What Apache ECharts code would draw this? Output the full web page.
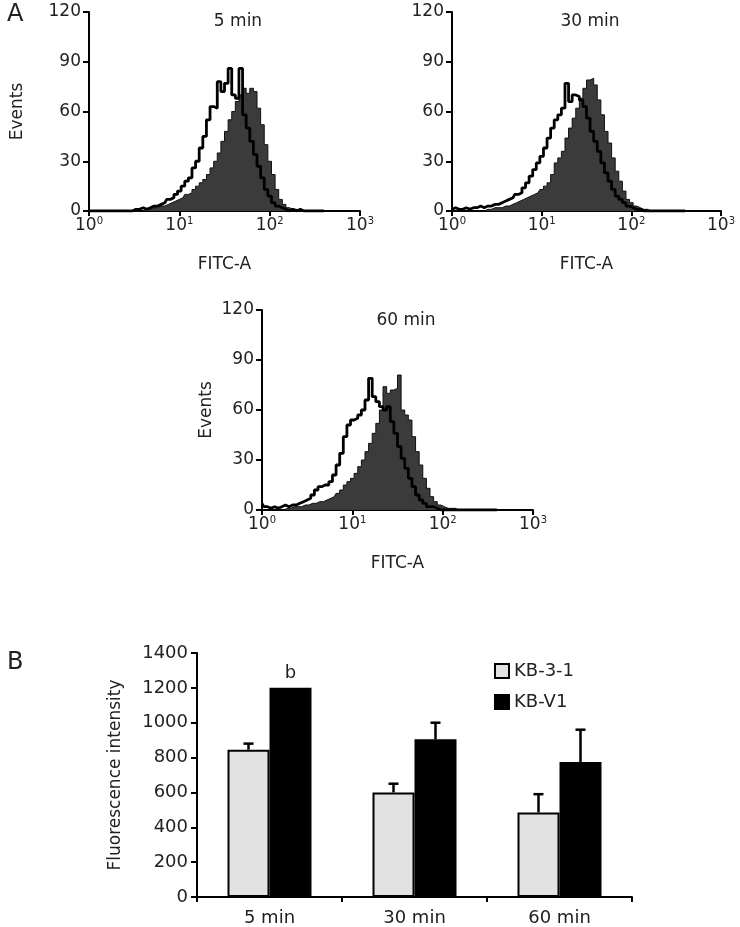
<!DOCTYPE html>
<html><head><meta charset="utf-8">
<script src="https://cdn.jsdelivr.net/npm/echarts@6/dist/echarts.min.js"></script>
<style>html,body{margin:0;padding:0;background:#fff}#c{width:740px;height:927px}</style>
</head><body><div id="c"></div>
<script>
// ---------- DATA ----------
// Histogram channel width in decades of FITC-A (log10 scale); bins start at 10^0
const binStepDecades = 0.04;
const decadeTicks = [0, 1, 2, 3];          // 10^0 .. 10^3
const eventTicks = [0, 30, 60, 90, 120];

// Panel A, 5 min
const p5Open = [0,0,0,0,0,0,0,0,0,0, 0,0,0,1,1,2,1,2,3,3, 4,5,7,8,10,12,15,18,20,26, 30,38,45,55,63,62,78,72,77,86, 70,68,86,58,50,42,34,27,20,13, 9,5,3,2,1,0,1,0,1,0, 0,0,0,0,0,0];
const p5Fill = [0,0,0,0,0,0,0,0,0,0, 0,0,0,0,0,0,1,1,2,2, 3,3,4,5,6,7,8,10,11,13, 15,17,19,22,26,30,35,42,48,55, 60,66,70,74,71,74,72,62,52,40, 30,22,13,7,4,2,1,1,0,0, 0,0,0,0,0,0];
// Panel A, 30 min
const p30Open = [1,2,1,1,2,1,2,2,3,2, 3,3,4,4,5,6,7,8,10,11, 14,17,21,25,29,33,38,44,50,55, 58,62,77,66,70,69,67,63,56,48, 42,36,29,23,18,13,9,7,5,3, 2,1,1,0,0,0,0,0,0,0, 0,0,0,0,0,0];
const p30Fill = [0,0,0,0,0,0,0,0,0,0, 1,1,2,2,2,3,3,4,5,6, 7,8,9,10,11,13,15,17,22,29, 32,36,44,50,56,62,68,74,79,80, 76,67,58,48,41,32,24,18,12,7, 5,3,2,1,1,0,0,0,0,0, 0,0,0,0,0,0];
// Panel A, 60 min
const p60Open = [4,2,1,2,1,2,3,2,3,3, 4,5,6,7,9,12,14,15,15,17, 21,27,34,44,51,54,55,57,60,66, 79,68,65,62,60,62,53,46,38,31, 25,19,14,9,6,4,2,2,1,0, 0,0,0,0,0,0,0,0,0,0, 0,0,0,0,0,0];
const p60Fill = [0,0,0,0,0,0,0,1,1,2, 2,2,3,3,4,4,5,5,6,7, 8,10,12,15,17,19,22,26,30,35, 40,46,52,60,74,70,72,73,81,60, 57,54,44,35,27,19,13,8,5,3, 2,1,1,1,0,0,0,0,0,0, 0,0,0,0,0,0];

// Panel B
const barCategories = ['5 min', '30 min', '60 min'];
const kb31 = [845, 600, 485];
const kb31Err = [35, 50, 105];
const kbv1 = [1200, 905, 775];
const kbv1Err = [0, 95, 185];
const barYTicks = [0, 200, 400, 600, 800, 1000, 1200, 1400];
const seriesNames = ['KB-3-1', 'KB-V1'];

// ---------- CHART ----------
const FONT = 'DejaVu Sans';
const TXT = '#222';
const panels = [
  { title: '5 min', open: p5Open, fill: p5Fill, grid: { left: 89, top: 12, width: 271, height: 199 }, yName: 'Events', yGap: 63, titleX: 233, titleY: 8 },
  { title: '30 min', open: p30Open, fill: p30Fill, grid: { left: 452, top: 12, width: 269, height: 199 }, yName: '', yGap: 60, titleX: 585, titleY: 8 },
  { title: '60 min', open: p60Open, fill: p60Fill, grid: { left: 262, top: 310, width: 271, height: 200 }, yName: 'Events', yGap: 47, titleX: 401, titleY: 307 }
];
const toPairs = arr => arr.map((v, i) => [i * binStepDecades, v]);

const grids = [], xAxes = [], yAxes = [], series = [], titles = [];
const axisLine = { show: true, onZero: false, lineStyle: { color: '#000', width: 2 } };

panels.forEach((p, k) => {
  grids.push(Object.assign({ containLabel: false }, p.grid));
  xAxes.push({
    type: 'value', gridIndex: k, min: decadeTicks[0], max: decadeTicks[decadeTicks.length - 1], interval: 1,
    axisLine, splitLine: { show: false },
    axisTick: { show: true, length: 5, lineStyle: { color: '#000', width: 2 } },
    axisLabel: {
      margin: 5, color: TXT, fontFamily: FONT,
      formatter: v => '{b|10}{s|' + v + '}',
      rich: { b: { fontSize: 17, fontFamily: FONT, color: TXT, lineHeight: 20 }, s: { fontSize: 10, fontFamily: FONT, color: TXT, verticalAlign: 'top', lineHeight: 20 } }
    },
    name: 'FITC-A', nameLocation: 'middle', nameGap: 45,
    nameTextStyle: { fontSize: 17, fontFamily: FONT, color: TXT }
  });
  yAxes.push({
    type: 'value', gridIndex: k, min: eventTicks[0], max: eventTicks[eventTicks.length - 1], interval: 30,
    axisLine, splitLine: { show: false },
    axisTick: { show: true, length: 6, lineStyle: { color: '#000', width: 2 } },
    axisLabel: { margin: 8, fontSize: 17, fontFamily: FONT, color: TXT },
    name: p.yName, nameLocation: 'middle', nameGap: p.yGap,
    nameTextStyle: { fontSize: 17, fontFamily: FONT, color: TXT }
  });
  series.push({
    type: 'line', xAxisIndex: k, yAxisIndex: k, data: toPairs(p.fill), step: 'middle',
    showSymbol: false, symbol: 'none', silent: true, z: 2,
    lineStyle: { color: '#111', width: 1 },
    areaStyle: { color: '#3b3b3b', opacity: 1 }
  });
  series.push({
    type: 'line', xAxisIndex: k, yAxisIndex: k, data: toPairs(p.open), step: 'middle',
    showSymbol: false, symbol: 'none', silent: true, z: 3,
    lineStyle: { color: '#000', width: 2.8 }
  });
  titles.push({ text: p.title, left: p.titleX, top: p.titleY, textAlign: 'center',
    textStyle: { fontSize: 17, fontWeight: 'normal', fontFamily: FONT, color: TXT } });
});

// Bar chart grid
const bg = 3;
grids.push({ left: 197, top: 653, width: 435, height: 245 });
xAxes.push({
  type: 'category', gridIndex: bg, data: barCategories,
  axisLine: { show: true, lineStyle: { color: '#000', width: 2 } },
  axisTick: { show: true, length: 5, lineStyle: { color: '#000', width: 2 } },
  axisLabel: { margin: 12, fontSize: 18, fontFamily: FONT, color: TXT }
});
yAxes.push({
  type: 'value', gridIndex: bg, min: barYTicks[0], max: barYTicks[barYTicks.length - 1], interval: 200,
  axisLine: { show: true, lineStyle: { color: '#000', width: 2 } },
  axisTick: { show: true, length: 6, lineStyle: { color: '#000', width: 2 } },
  splitLine: { show: false },
  axisLabel: { margin: 9, fontSize: 18, fontFamily: FONT, color: TXT, formatter: v => String(v) },
  name: 'Fluorescence intensity', nameLocation: 'middle', nameGap: 73,
  nameTextStyle: { fontSize: 17, fontFamily: FONT, color: TXT }
});
const BAR_W = 42;
series.push({
  name: seriesNames[0], type: 'bar', xAxisIndex: bg, yAxisIndex: bg, data: kb31,
  barWidth: BAR_W, barGap: '0%',
  itemStyle: { color: '#e2e2e2', borderColor: '#000', borderWidth: 2 }
});
series.push({
  name: seriesNames[1], type: 'bar', xAxisIndex: bg, yAxisIndex: bg,
  data: kbv1.map((v, i) => i === 0 ? { value: v, label: { show: true, position: 'top', distance: 6, formatter: 'b', fontSize: 18, fontFamily: FONT, color: TXT } } : v),
  barWidth: BAR_W, barGap: '0%',
  itemStyle: { color: '#000', borderColor: '#000', borderWidth: 2 }
});
function errSeries(vals, errs, dir) {
  return {
    type: 'custom', xAxisIndex: bg, yAxisIndex: bg, z: 5, silent: true,
    data: vals.map((v, i) => [i, v, errs[i]]),
    renderItem: (params, api) => {
      const e = api.value(2);
      if (!e) return null;
      const base = api.coord([api.value(0), api.value(1)]);
      const top = api.coord([api.value(0), api.value(1) + e]);
      const x = base[0] + dir * BAR_W / 2;
      const style = { stroke: '#000', lineWidth: 2.5 };
      return { type: 'group', children: [
        { type: 'line', shape: { x1: x, y1: base[1], x2: x, y2: top[1] }, style },
        { type: 'line', shape: { x1: x - 5, y1: top[1], x2: x + 5, y2: top[1] }, style }
      ] };
    }
  };
}
series.push(errSeries(kb31, kb31Err, -1));
series.push(errSeries(kbv1, kbv1Err, 1));

titles.push({ text: 'A', left: 2, top: -2, textStyle: { fontSize: 24, fontWeight: 'normal', fontFamily: FONT, color: TXT } });
titles.push({ text: 'B', left: 2, top: 646, textStyle: { fontSize: 24, fontWeight: 'normal', fontFamily: FONT, color: TXT } });

const chart = echarts.init(document.getElementById('c'), null, { renderer: 'canvas' });
chart.setOption({
  animation: false,
  backgroundColor: '#fff',
  title: titles,
  legend: {
    data: seriesNames, orient: 'vertical', left: 489, top: 657,
    itemWidth: 14, itemHeight: 14, itemGap: 13, icon: 'rect',
    textStyle: { fontSize: 18, fontFamily: FONT, color: TXT }
  },
  grid: grids, xAxis: xAxes, yAxis: yAxes, series
});
</script></body></html>
